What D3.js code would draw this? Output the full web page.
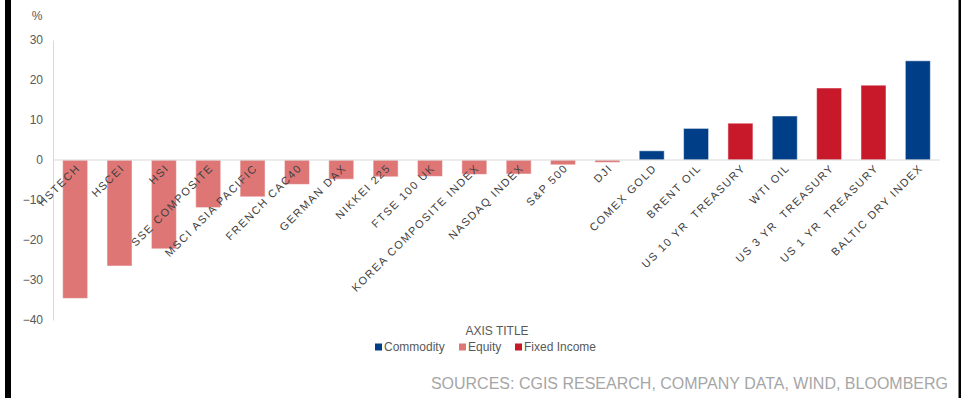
<!DOCTYPE html>
<meta charset="utf-8" />
<head>
  <style>
    body { margin: 0; background: #fff; }
    svg { display: block; font-family: "Liberation Sans", Arial, sans-serif; }
    .tick text { fill: #595959; font-size: 12px; }
    .cat { fill: #404040; font-size: 11px; letter-spacing: 1.5px; white-space: pre; }
  </style>
  <script src="https://cdn.jsdelivr.net/npm/d3@7"></script>
</head>
<body>
<script>
  var categories = ["HSTECH", "HSCEI", "HSI", "SSE COMPOSITE", "MSCI ASIA PACIFIC",
    "FRENCH CAC40", "GERMAN DAX", "NIKKEI 225", "FTSE 100 UK", "KOREA COMPOSITE INDEX",
    "NASDAQ INDEX", "S&P 500", "DJI", "COMEX GOLD", "BRENT OIL", "US 10 YR  TREASURY",
    "WTI OIL", "US 3 YR  TREASURY", "US 1 YR  TREASURY", "BALTIC DRY INDEX"];
  var values = [-34.6, -26.5, -22.2, -11.9, -9.2, -6.1, -4.8, -4.2, -4.1, -3.6,
    -3.5, -1.2, -0.6, 2.3, 7.9, 9.2, 11.0, 18.0, 18.7, 24.8];
  var groups = ["Equity", "Equity", "Equity", "Equity", "Equity", "Equity", "Equity",
    "Equity", "Equity", "Equity", "Equity", "Equity", "Equity", "Commodity", "Commodity",
    "Fixed Income", "Commodity", "Fixed Income", "Fixed Income", "Commodity"];
  var seriesNames = ["Commodity", "Equity", "Fixed Income"];
  var seriesColors = ["#003f87", "#de7676", "#c8192b"];
  var yTicks = [30, 20, 10, 0, -10, -20, -30, -40];

  var W = 973, H = 398;
  var svg = d3.select("body").append("svg").attr("width", W).attr("height", H);

  // frame lines at the sides
  svg.append("rect").attr("x", 5).attr("y", 0).attr("width", 6).attr("height", H).attr("fill", "#000");
  svg.append("rect").attr("x", 958.5).attr("y", 0).attr("width", 2.5).attr("height", H).attr("fill", "#000");

  var x = d3.scaleBand().domain(categories).range([53, 940]).paddingInner(0.436).paddingOuter(0.218);
  var y = d3.scaleLinear().domain([-40, 30]).range([320, 40]);
  var color = d3.scaleOrdinal().domain(seriesNames).range(seriesColors);

  var yAxis = svg.append("g")
    .attr("transform", "translate(53,0)")
    .call(d3.axisLeft(y).tickValues(yTicks).tickSize(0).tickPadding(10).tickFormat(d3.format("d")));
  yAxis.select(".domain").attr("stroke", "#d9d9d9");

  svg.append("text").attr("x", 37).attr("y", 20).attr("text-anchor", "middle")
    .attr("fill", "#595959").style("font-size", "12px").text("%");

  svg.append("g").selectAll("rect")
    .data(values)
    .enter()
    .append("rect")
    .attr("x", function(d, i) { return x(categories[i]); })
    .attr("y", function(d) { return y(Math.max(0, d)); })
    .attr("width", x.bandwidth())
    .attr("height", function(d) { return Math.abs(y(d) - y(0)); })
    .attr("fill", function(d, i) { return color(groups[i]); })
    .attr("stroke", "rgba(255,255,255,0.5)")
    .attr("stroke-width", 1);

  // zero line
  svg.append("line").attr("x1", 53).attr("x2", 940).attr("y1", y(0)).attr("y2", y(0))
    .attr("stroke", "#d9d9d9").attr("stroke-width", 1);

  svg.append("g").selectAll("text")
    .data(categories)
    .enter()
    .append("text")
    .attr("class", "cat")
    .attr("text-anchor", "end")
    .attr("transform", function(d) {
      return "translate(" + (x(d) + x.bandwidth() / 2 + 3) + "," + (y(0) + 6) + ") rotate(-45)";
    })
    .attr("dy", "0.35em")
    .text(function(d) { return d; });

  svg.append("text").attr("x", 497).attr("y", 335).attr("text-anchor", "middle")
    .attr("fill", "#595959").style("font-size", "12px").text("AXIS TITLE");

  var legendX = [375, 459, 515];
  var legend = svg.append("g").selectAll("g")
    .data(seriesNames)
    .enter()
    .append("g")
    .attr("transform", function(d, i) { return "translate(" + legendX[i] + ",347)"; });
  legend.append("rect").attr("x", 0).attr("y", -3.5).attr("width", 7).attr("height", 7)
    .attr("fill", function(d) { return color(d); });
  legend.append("text").attr("x", 9).attr("dy", "0.35em")
    .attr("fill", "#595959").style("font-size", "12px")
    .text(function(d) { return d; });

  svg.append("text").attr("x", 948).attr("y", 389).attr("text-anchor", "end")
    .attr("fill", "#a6a6a6").style("font-size", "16px")
    .text("SOURCES: CGIS RESEARCH, COMPANY DATA, WIND, BLOOMBERG");
</script>
</body>
